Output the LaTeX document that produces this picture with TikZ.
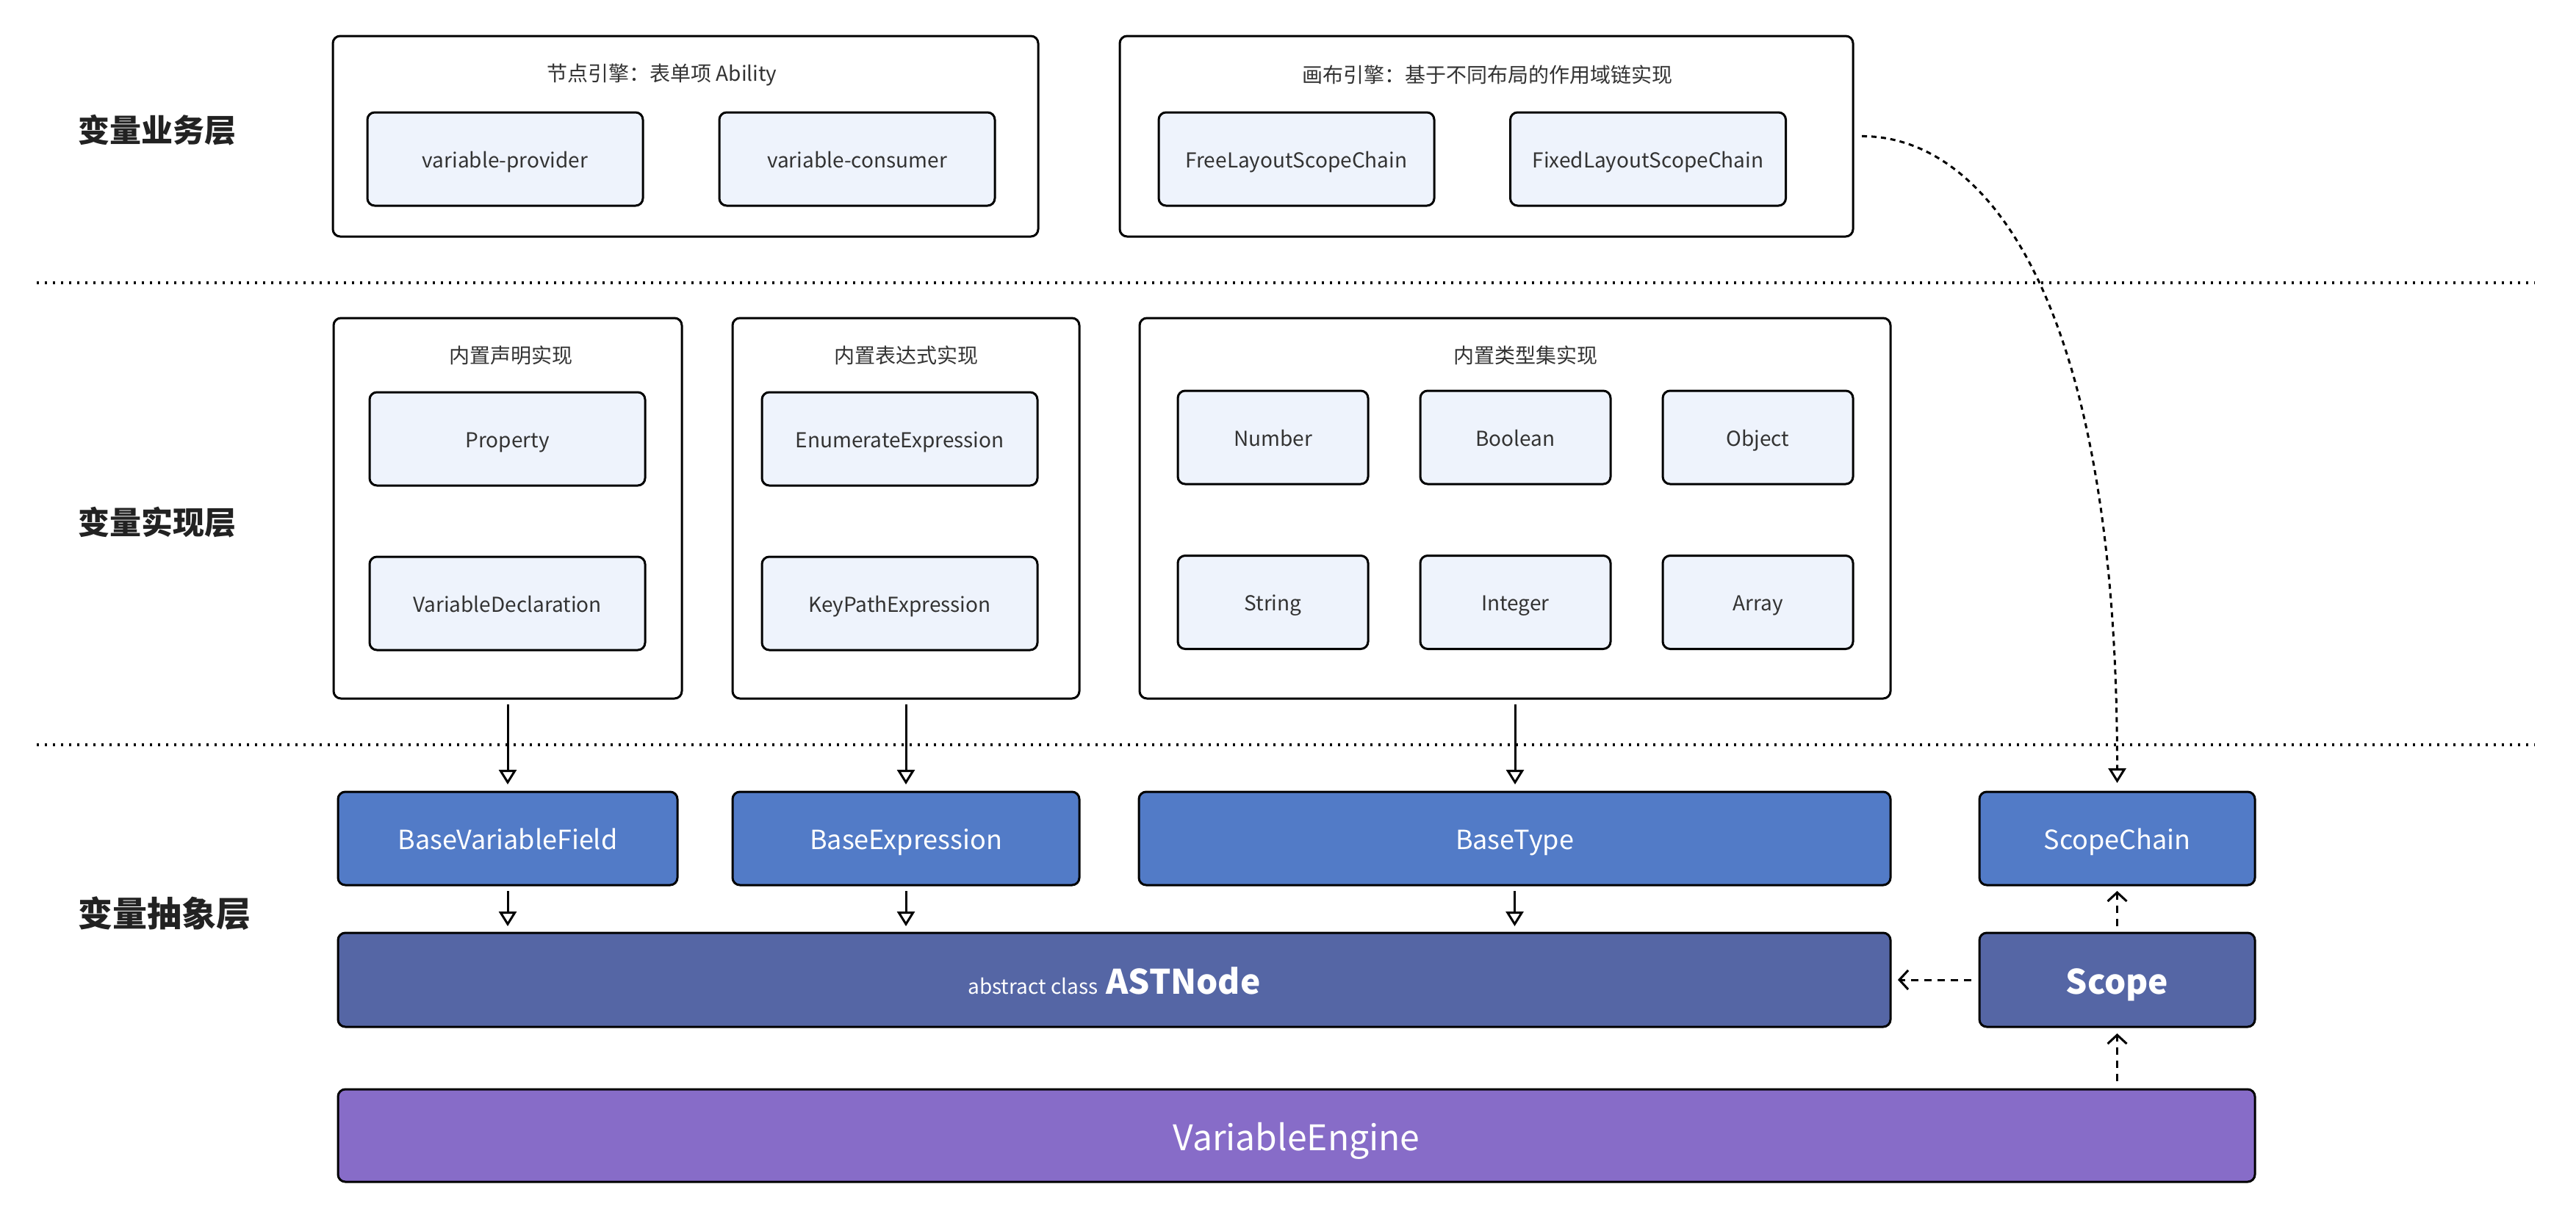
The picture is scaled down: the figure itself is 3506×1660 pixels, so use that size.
\documentclass[tikz,border=0pt]{standalone}
\usepackage{fontspec}
\setmainfont{Noto Sans CJK SC}
\usetikzlibrary{arrows.meta}
\definecolor{lightfill}{HTML}{EEF3FC}
\definecolor{bluefill}{HTML}{527BC7}
\definecolor{astfill}{HTML}{5566A5}
\definecolor{engfill}{HTML}{876CC8}
\definecolor{txt}{HTML}{333333}
\definecolor{lbl}{HTML}{222222}
\begin{document}
\begin{tikzpicture}[x=1pt,y=-1pt,
  every node/.style={inner sep=0pt, outer sep=0pt},
  container/.style={draw=black, line width=3pt, rounded corners=10pt, fill=white},
  itembox/.style={draw=black, line width=3pt, rounded corners=10pt, fill=lightfill,
    text=txt, font=\fontsize{28}{34}\selectfont, minimum height=127pt,
    text height=30.8pt, text depth=7pt},
  basebox/.style={draw=black, line width=3pt, rounded corners=10pt, fill=bluefill,
    text=white, font=\fontsize{36}{42}\selectfont, minimum height=127pt,
    text height=39.6pt, text depth=9pt},
  astbox/.style={draw=black, line width=3pt, rounded corners=10pt, fill=astfill,
    text=white, minimum height=128pt, text height=50.6pt, text depth=11.5pt},
  engbox/.style={draw=black, line width=3pt, rounded corners=10pt, fill=engfill,
    text=white, font=\fontsize{48}{56}\selectfont, minimum height=126pt,
    text height=52.8pt, text depth=12pt},
  title/.style={text=txt, font=\fontsize{28}{34}\selectfont},
  layer/.style={text=lbl, anchor=west, font=\fontsize{43}{50}\selectfont\bfseries},
  sep/.style={line width=4pt, dash pattern=on 3pt off 8pt},
  solidarrow/.style={line width=3pt, -{Triangle[open, length=20pt, width=24pt, line width=3pt]}},
  dasharrow/.style={line width=3pt, dash pattern=on 10pt off 8pt,
    -{Straight Barb[length=12pt, width=26pt, line width=3pt]}},
  curvearrow/.style={line width=3pt, dash pattern=on 7pt off 6pt,
    -{Triangle[open, length=20pt, width=24pt, line width=3pt]}}
]
\useasboundingbox[fill=white] (0,0) rectangle (3506,1660);

% layer labels
\node[layer] (L1) at (106,177) {变量业务层};
\node[layer] (L2) at (106,711) {变量实现层};
\node[layer, font=\fontsize{47}{54}\selectfont\bfseries] (L3) at (106,1244) {变量抽象层};

% separators
\coordinate (s1a) at (50,385);
\coordinate (s1b) at (3450,385);
\coordinate (s2a) at (50,1014);
\coordinate (s2b) at (3450,1014);
\draw[sep] (s1a) -- (s1b);
\draw[sep] (s2a) -- (s2b);

% business layer
\node[container, minimum width=960pt, minimum height=273pt] (biz1) at (933,185.5) {};
\node[container, minimum width=998pt, minimum height=273pt] (biz2) at (2023,185.5) {};
\node[title] (t1) at (901,102) {节点引擎：表单项 Ability};
\node[title] (t2) at (2024,102) {画布引擎：基于不同布局的作用域链实现};
\node[itembox, minimum width=375pt] (prov) at (687.5,216.5) {variable-provider};
\node[itembox, minimum width=375pt] (cons) at (1166.5,216.5) {variable-consumer};
\node[itembox, minimum width=375pt] (free) at (1764.5,216.5) {FreeLayoutScopeChain};
\node[itembox, minimum width=375pt] (fixed) at (2243,216.5) {FixedLayoutScopeChain};

% implementation layer
\node[container, minimum width=474pt, minimum height=518pt] (decl) at (691,692) {};
\node[container, minimum width=472pt, minimum height=518pt] (expr) at (1233,692) {};
\node[container, minimum width=1022pt, minimum height=518pt] (types) at (2062,692) {};
\node[title] (t3) at (695,484) {内置声明实现};
\node[title] (t4) at (1233,484) {内置表达式实现};
\node[title] (t5) at (2076,484) {内置类型集实现};
\node[itembox, minimum width=375pt] (prop) at (690.5,597.5) {Property};
\node[itembox, minimum width=375pt] (vdecl) at (690.5,821.5) {VariableDeclaration};
\node[itembox, minimum width=375pt] (enum) at (1224.5,597.5) {EnumerateExpression};
\node[itembox, minimum width=375pt] (kp) at (1224.5,821.5) {KeyPathExpression};
\node[itembox, minimum width=259pt] (num) at (1732.5,595.5) {Number};
\node[itembox, minimum width=259pt] (bool) at (2062.5,595.5) {Boolean};
\node[itembox, minimum width=259pt] (obj) at (2392.5,595.5) {Object};
\node[itembox, minimum width=259pt] (str) at (1732.5,820) {String};
\node[itembox, minimum width=259pt] (int) at (2062.5,820) {Integer};
\node[itembox, minimum width=259pt] (arr) at (2392.5,820) {Array};

% abstract layer
\node[basebox, minimum width=462pt] (bvf) at (691,1141.5) {BaseVariableField};
\node[basebox, minimum width=472pt] (bexp) at (1233,1141.5) {BaseExpression};
\node[basebox, minimum width=1023pt] (btype) at (2061.5,1141.5) {BaseType};
\node[basebox, minimum width=375pt] (chain) at (2881.5,1141.5) {ScopeChain};
\node[astbox, minimum width=2113pt] (ast) at (1516.5,1334)
  {{\fontsize{28}{34}\selectfont abstract class}\hspace{11pt}{\fontsize{46}{54}\selectfont\bfseries ASTNode}};
\node[astbox, minimum width=375pt, font=\fontsize{46}{54}\selectfont\bfseries] (scope) at (2881.5,1334) {Scope};
\node[engbox, minimum width=2609pt] (eng) at (1764.5,1546) {VariableEngine};

% arrows
\draw[solidarrow, shorten <=8pt, shorten >=10pt] (decl.south) -- (bvf.north);
\draw[solidarrow, shorten <=8pt, shorten >=10pt] (expr.south) -- (bexp.north);
\draw[solidarrow, shorten <=8pt, shorten >=10pt] (types.south) -- (types.south |- btype.north);
\draw[solidarrow, shorten <=8pt, shorten >=9pt] (bvf.south) -- (bvf.south |- ast.north);
\draw[solidarrow, shorten <=8pt, shorten >=9pt] (bexp.south) -- (bexp.south |- ast.north);
\draw[solidarrow, shorten <=8pt, shorten >=9pt] (btype.south) -- (btype.south |- ast.north);
\draw[dasharrow, shorten <=11pt, shorten >=10pt] (scope.west) -- (ast.east |- scope.west);
\draw[dasharrow, shorten <=9pt, shorten >=8pt] (scope.north) -- (chain.south);
\draw[dasharrow, shorten <=11pt, shorten >=9pt] (scope.south |- eng.north) -- (scope.south);
\draw[curvearrow, shorten <=12pt, shorten >=12pt] (biz2.east) .. controls (2700,185) and (2882,400) .. (chain.north);
\end{tikzpicture}
\end{document}
